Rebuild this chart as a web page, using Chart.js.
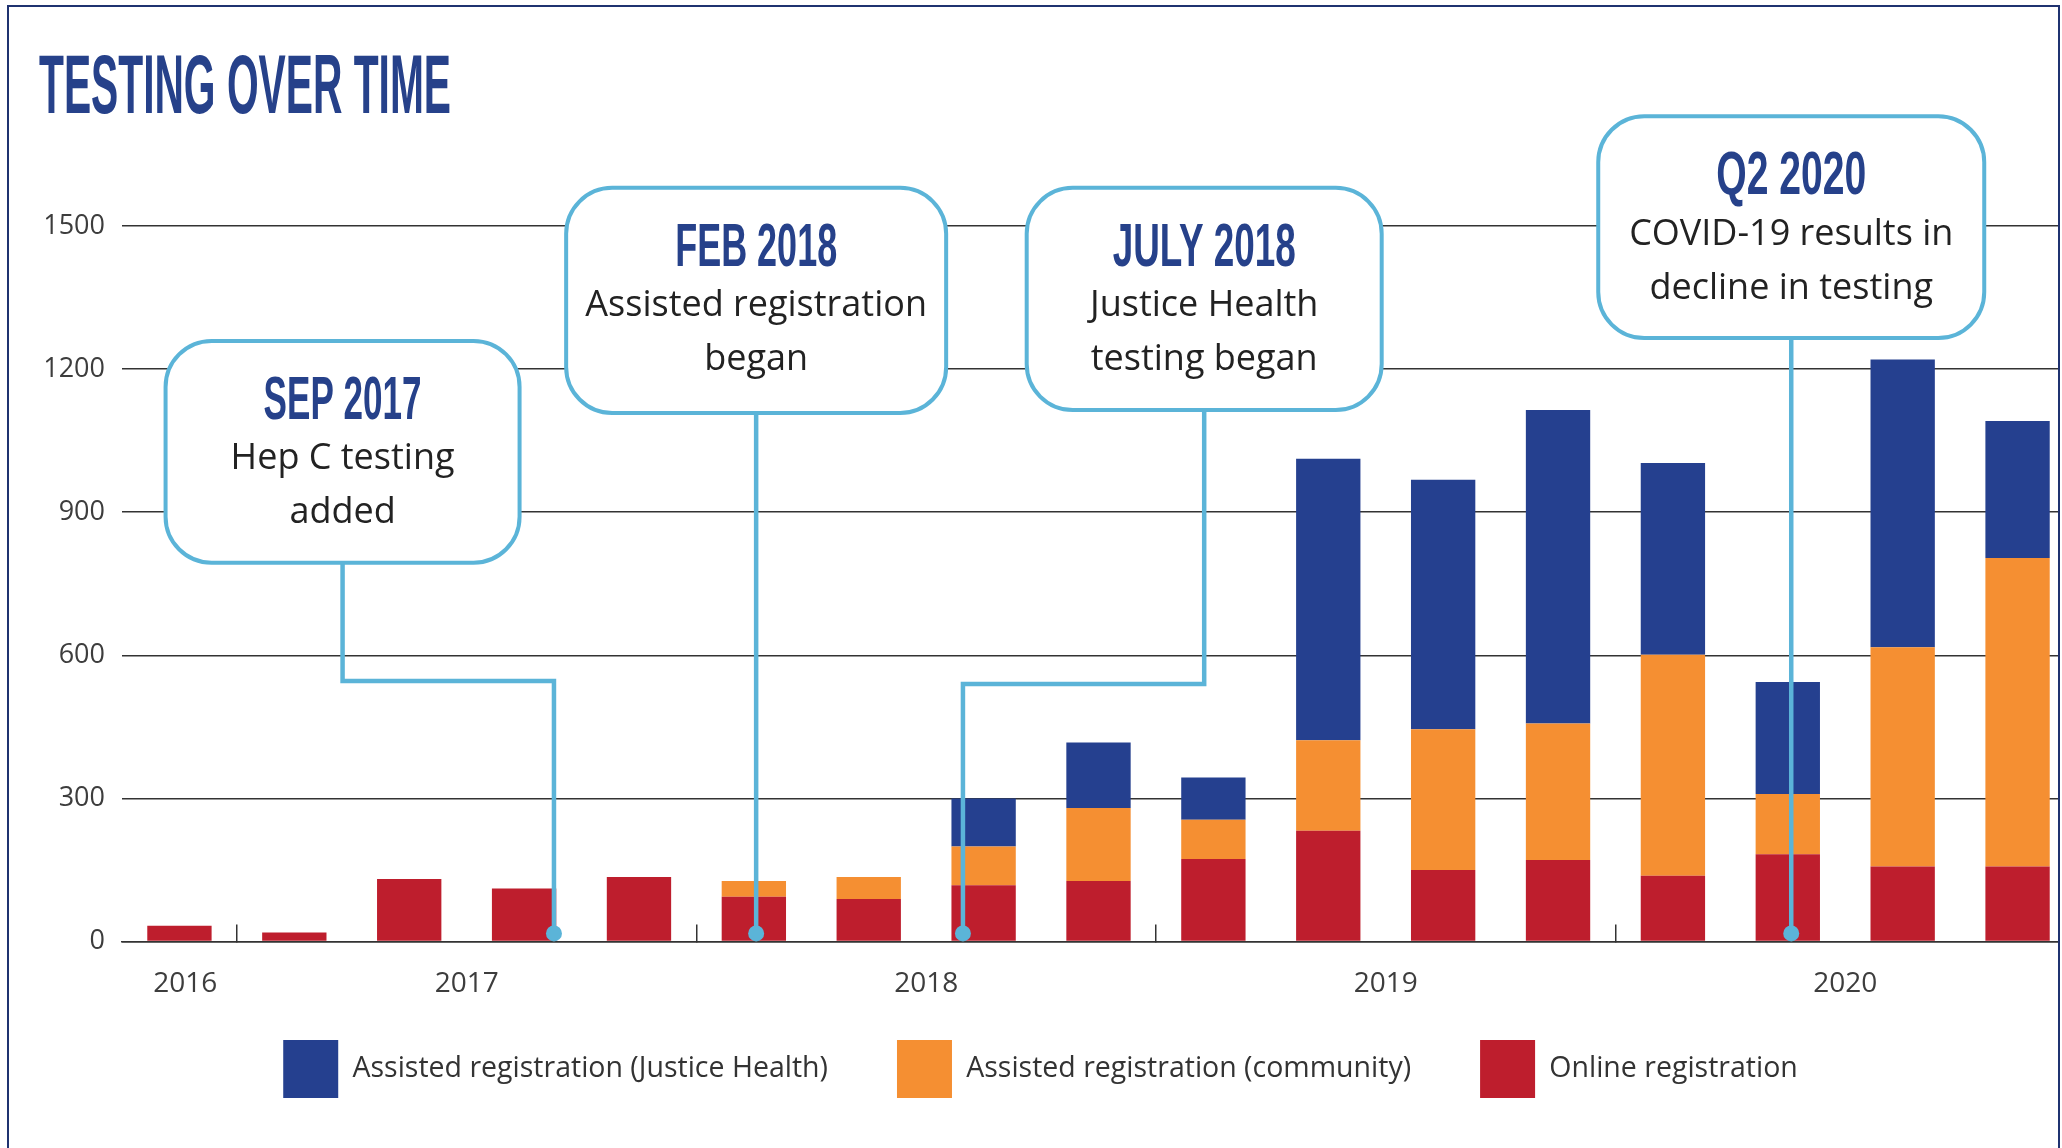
<!DOCTYPE html>
<html lang="en">
<head>
<meta charset="UTF-8">
<title>Testing over time</title>
<script src="https://cdn.jsdelivr.net/npm/chart.js"></script>
<style>
    html, body { margin: 0; padding: 0; background: #fff; overflow: hidden; }
    #wrap { position: absolute; left: 0; top: 0; width: 2058px; height: 1148px; overflow: hidden; }
    #frame {
        position: absolute; left: 7px; top: 5px; width: 2053px; height: 1200px;
        border: 2.5px solid #1f3270; box-sizing: border-box; pointer-events: none;
    }
</style>
</head>
<body>
<div id="wrap"><canvas id="chart" width="2090" height="1148"></canvas></div>
<div id="frame"></div>

<script>
// quarters, Q4 2016 .. Q4 2020
const quarters = ['Q4 2016', 'Q1 2017', 'Q2 2017', 'Q3 2017', 'Q4 2017',
                  'Q1 2018', 'Q2 2018', 'Q3 2018', 'Q4 2018',
                  'Q1 2019', 'Q2 2019', 'Q3 2019', 'Q4 2019',
                  'Q1 2020', 'Q2 2020', 'Q3 2020', 'Q4 2020'];

const online    = [33, 19, 131, 111, 135, 94, 89, 118, 127, 173, 232, 150, 171, 138, 183, 157, 157];
const community = [0, 0, 0, 0, 0, 33, 46, 81, 153, 82, 190, 295, 286, 463, 126, 460, 647];
const justice   = [0, 0, 0, 0, 0, 0, 0, 101, 137, 89, 590, 523, 657, 402, 235, 603, 287];

// year labels sit in the middle of each year's group of bars
const yearLabels = ['2016', '2017', '2018', '2019', '2020'];
const yearPos    = [0.05, 2.5, 6.5, 10.5, 14.5];
// short tick marks between the year groups
const yearBreaks = [1, 5, 9, 13];

const yTicks = [0, 300, 600, 900, 1200, 1500];

const titleText = 'TESTING OVER TIME';

// callouts: box centre (bar index), box top/bottom (y value), connector path
const callouts = [
    { head: 'SEP 2017', body: ['Hep C testing', 'added'], boxX: 1.42, boxTop: 1259, boxBottom: 794,
      boxW: 354, headW: 158, path: [[1.42, 546], [3.26, 546], [3.26, 17]] },
    { head: 'FEB 2018', body: ['Assisted registration', 'began'], boxX: 5.02, boxTop: 1580, boxBottom: 1108,
      boxW: 380, headW: 162, path: [[5.02, 17]] },
    { head: 'JULY 2018', body: ['Justice Health', 'testing began'], boxX: 8.92, boxTop: 1580, boxBottom: 1114,
      boxW: 355, headW: 183, path: [[8.92, 540], [6.82, 540], [6.82, 17]] },
    { head: 'Q2 2020', body: ['COVID-19 results in', 'decline in testing'], boxX: 14.03, boxTop: 1730, boxBottom: 1265,
      boxW: 386, headW: 150, path: [[14.03, 17]] }
];

const navy = '#26418a';
const calloutBlue = '#5bb4d8';
const textGrey = '#3d3d3d';

function drawCondensed(ctx, text, x, y, size, targetW, align) {
    ctx.save();
    ctx.font = 'bold ' + size + 'px "Liberation Sans Narrow", "Liberation Sans", Arial, sans-serif';
    const w = ctx.measureText(text).width;
    ctx.translate(x, y);
    ctx.scale(targetW / w, 1);
    ctx.textAlign = align;
    ctx.textBaseline = 'alphabetic';
    ctx.fillStyle = navy;
    ctx.fillText(text, 0, 0);
    ctx.restore();
}

const calloutPlugin = {
    id: 'callouts',
    afterLayout(chart) {
        // nudge the legend to sit where the original one does
        const lg = chart.legend;
        lg.left -= 20; lg.right -= 20;
        lg.top -= 26.5; lg.bottom -= 26.5;
    },
    afterDraw(chart) {
        const { ctx } = chart;
        const x = chart.scales.x, y = chart.scales.y;

        drawCondensed(ctx, titleText, 39, 113, 84, 412, 'left');

        callouts.forEach(c => {
            const cx = x.getPixelForValue(c.boxX);
            const top = y.getPixelForValue(c.boxTop);
            const bottom = y.getPixelForValue(c.boxBottom);

            ctx.save();
            ctx.strokeStyle = calloutBlue;
            ctx.fillStyle = calloutBlue;
            ctx.lineWidth = 4.5;
            ctx.beginPath();
            ctx.moveTo(cx, bottom);
            c.path.forEach(([i, v]) => ctx.lineTo(x.getPixelForValue(i), y.getPixelForValue(v)));
            ctx.stroke();

            const end = c.path[c.path.length - 1];
            ctx.beginPath();
            ctx.arc(x.getPixelForValue(end[0]), y.getPixelForValue(end[1]), 8, 0, Math.PI * 2);
            ctx.fill();

            ctx.beginPath();
            ctx.roundRect(cx - c.boxW / 2, top, c.boxW, bottom - top, 46);
            ctx.fillStyle = '#fff';
            ctx.fill();
            ctx.lineWidth = 4;
            ctx.stroke();

            drawCondensed(ctx, c.head, cx, top + 78, 62, c.headW, 'center');

            ctx.font = '36px "Open Sans"';
            ctx.fillStyle = '#222';
            ctx.textAlign = 'center';
            ctx.textBaseline = 'middle';
            c.body.forEach((line, k) => ctx.fillText(line, cx, top + 118 + k * 54));
            ctx.restore();
        });
    }
};

const ctx = document.getElementById('chart').getContext('2d');
new Chart(ctx, {
    type: 'bar',
    data: {
        labels: quarters,
        datasets: [
            { label: 'Online registration', data: online, backgroundColor: '#be1e2d', borderWidth: 0 },
            { label: 'Assisted registration (community)', data: community, backgroundColor: '#f58f32', borderWidth: 0 },
            { label: 'Assisted registration (Justice Health)', data: justice, backgroundColor: '#25408f', borderWidth: 0 }
        ]
    },
    options: {
        responsive: false,
        devicePixelRatio: 1,
        animation: false,
        datasets: { bar: { categoryPercentage: 1, barPercentage: 0.56 } },
        layout: { padding: { top: 226, left: 46, right: 15, bottom: 13.5 } },
        scales: {
            x: {
                stacked: true,
                offset: true,
                ticks: { display: false },
                grid: {
                    offset: true,
                    drawOnChartArea: false,
                    tickLength: -17,
                    lineWidth: 1.5,
                    color: c => yearBreaks.includes(c.index) ? '#333' : 'rgba(0,0,0,0)'
                },
                border: { display: true, color: '#333', width: 1.5 },
                afterFit: s => { s.height = 0; }
            },
            x2: {
                type: 'linear',
                position: 'bottom',
                offset: false,
                bounds: 'data',
                min: -0.5,
                max: quarters.length - 0.5,
                grid: { display: false, offset: false },
                border: { display: false },
                afterBuildTicks: s => { s.ticks = yearPos.map(v => ({ value: v })); },
                afterFit: s => { s.height = 56; },
                ticks: {
                    autoSkip: false,
                    maxRotation: 0,
                    padding: 18,
                    color: textGrey,
                    font: { family: 'Open Sans', size: 28 },
                    callback: v => yearLabels[yearPos.indexOf(v)]
                }
            },
            y: {
                stacked: true,
                min: 0,
                max: 1500,
                afterBuildTicks: s => { s.ticks = yTicks.map(v => ({ value: v })); },
                afterFit: s => { s.width = 76; },
                grid: { color: '#333', lineWidth: 1.5, drawTicks: false },
                border: { display: false },
                ticks: {
                    padding: 17,
                    color: textGrey,
                    font: { family: 'Open Sans', size: 27 },
                    callback: v => String(v)
                }
            }
        },
        plugins: {
            tooltip: { enabled: false },
            legend: {
                position: 'bottom',
                reverse: true,
                labels: {
                    boxWidth: 55,
                    boxHeight: 58,
                    padding: 69,
                    color: '#333',
                    font: { family: 'Open Sans', size: 28.5 }
                }
            }
        }
    },
    plugins: [calloutPlugin]
});
</script>
</body>
</html>
